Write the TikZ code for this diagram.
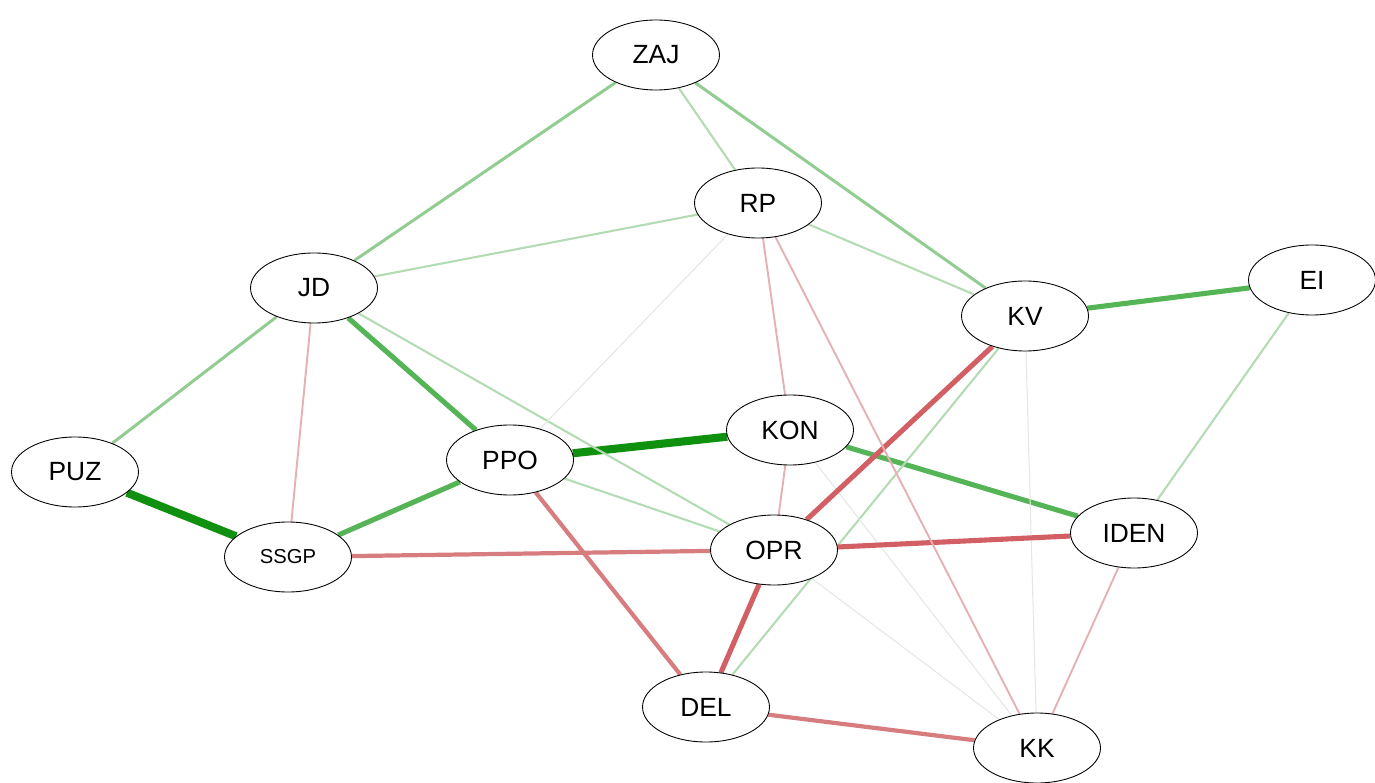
\documentclass[tikz,border=0pt]{standalone}
\usepackage{fontspec}
\setmainfont{Liberation Sans}
\usetikzlibrary{shapes.geometric,backgrounds}
\definecolor{gstrong}{RGB}{15,145,15}
\definecolor{gmid}{RGB}{85,180,85}
\definecolor{glight}{RGB}{145,205,145}
\definecolor{gweak}{RGB}{180,220,180}
\definecolor{faint}{RGB}{225,232,225}
\definecolor{rstrong}{RGB}{210,95,100}
\definecolor{rmid}{RGB}{215,125,128}
\definecolor{rlight}{RGB}{228,178,180}
\tikzset{
  var/.style={ellipse,draw,line width=0.5pt,fill=white,minimum width=2.54cm,minimum height=1.4cm,inner sep=0pt,font=\fontsize{15}{17}\selectfont},
  posstrong/.style={gstrong,line width=4.6pt},
  posmid/.style={gmid,line width=2.9pt},
  poslight/.style={glight,line width=1.7pt},
  posweak/.style={gweak,line width=1.2pt},
  neutral/.style={faint,line width=0.6pt},
  negstrong/.style={rstrong,line width=2.9pt},
  negmid/.style={rmid,line width=2.4pt},
  neglight/.style={rlight,line width=1.1pt}
}
\begin{document}
\begin{tikzpicture}[x=0.02cm,y=-0.02cm,line cap=round]
  \useasboundingbox (0,0) rectangle (1375,783);
  \node[var] (zaj) at (656,55) {ZAJ};
  \node[var] (rp) at (758,203) {RP};
  \node[var] (jd) at (314,288) {JD};
  \node[var] (ei) at (1312,280) {EI};
  \node[var] (kv) at (1025,316) {KV};
  \node[var] (kon) at (790,430) {KON};
  \node[var] (ppo) at (510,460) {PPO};
  \node[var] (puz) at (75,472) {PUZ};
  \node[var,font=\fontsize{11.5}{13}\selectfont] (ssgp) at (288,557) {SSGP};
  \node[var] (opr) at (774,550) {OPR};
  \node[var] (iden) at (1134,533) {IDEN};
  \node[var] (del) at (706,707) {DEL};
  \node[var] (kk) at (1037,748) {KK};
  \begin{scope}[on background layer]
    % positive links
    \draw[posstrong] (puz) -- (ssgp);
    \draw[posstrong] (ppo) -- (kon);
    \draw[posmid] (jd) -- (ppo);
    \draw[posmid] (ssgp) -- (ppo);
    \draw[posmid] (kv) -- (ei);
    \draw[posmid] (kon) -- (iden);
    \draw[poslight] (zaj) -- (jd);
    \draw[poslight] (zaj) -- (kv);
    \draw[poslight] (jd) -- (puz);
    \draw[posweak] (zaj) -- (rp);
    \draw[posweak] (rp) -- (jd);
    \draw[posweak] (rp) -- (kv);
    \draw[posweak] (jd) -- (opr);
    \draw[posweak] (ppo) -- (opr);
    \draw[posweak] (kv) -- (del);
    \draw[posweak] (ei) -- (iden);
    % near zero
    \draw[neutral] (rp) -- (ppo);
    \draw[neutral] (kon) -- (kk);
    \draw[neutral] (opr) -- (kk);
    \draw[neutral] (kv) -- (kk);
    % negative links
    \draw[negstrong] (kv) -- (opr);
    \draw[negstrong] (opr) -- (iden);
    \draw[negstrong] (opr) -- (del);
    \draw[negmid] (ssgp) -- (opr);
    \draw[negmid] (ppo) -- (del);
    \draw[negmid] (del) -- (kk);
    \draw[neglight] (jd) -- (ssgp);
    \draw[neglight] (rp) -- (kon);
    \draw[neglight] (rp) -- (kk);
    \draw[neglight] (kon) -- (opr);
    \draw[neglight] (iden) -- (kk);
  \end{scope}
\end{tikzpicture}
\end{document}
